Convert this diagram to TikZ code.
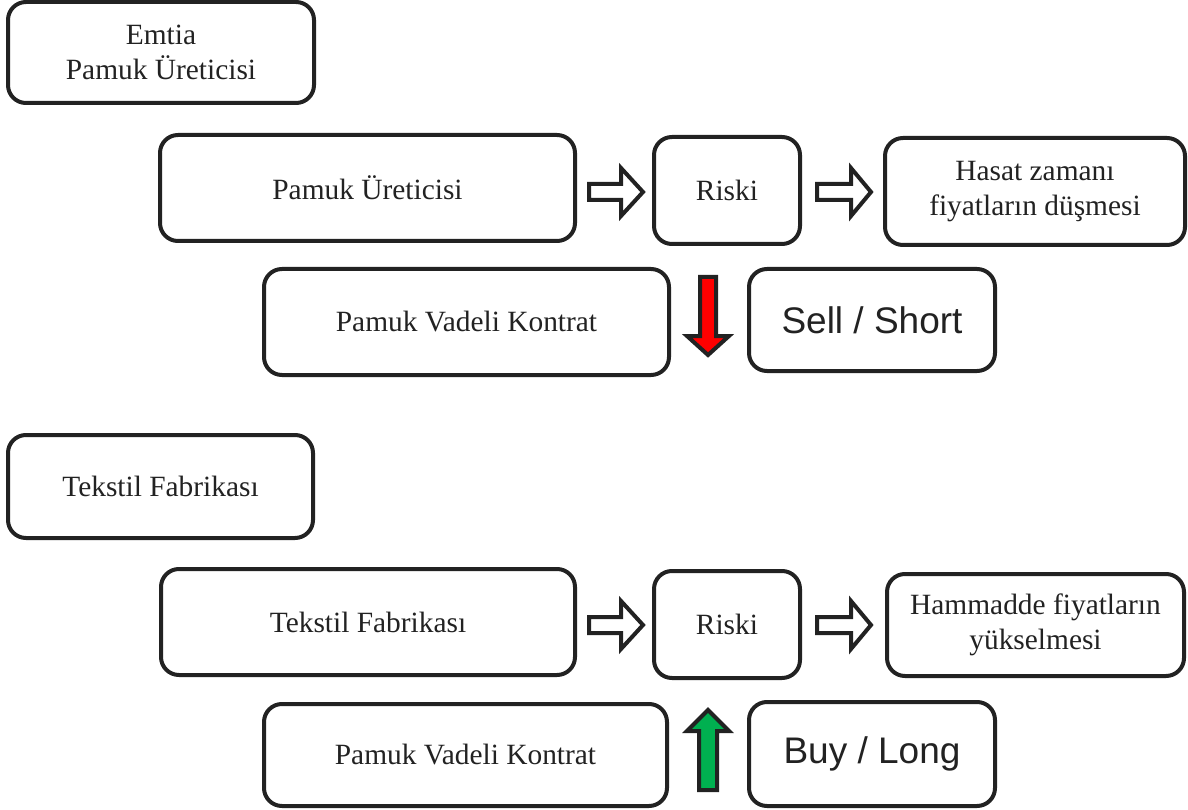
\documentclass[tikz,border=0pt]{standalone}
\usepackage{fontspec}
\setmainfont{Liberation Serif}
\newfontfamily\arialfont{Liberation Sans}
\definecolor{ink}{RGB}{34,34,34}
\definecolor{sellred}{RGB}{255,0,0}
\definecolor{buygreen}{RGB}{0,176,80}
\tikzset{
  box/.style={draw=ink, line width=4pt, rounded corners=18pt, inner sep=0pt,
    align=center, text=ink, font=\fontsize{29.4}{35}\selectfont},
  bigbox/.style={box, font=\arialfont\fontsize{37}{44}\selectfont},
  hollowarrow/.style={draw=ink, line width=4pt, fill=white, line join=miter},
  colorarrow/.style={draw=ink, line width=4pt, line join=miter}
}
% box from outer edges: L R T B
\newcommand{\mybox}[7][box]{%
  \node[#1, minimum width={#4-#3-4pt}, minimum height={#6-#5-4pt}] (#2) at ({(#3+#4)/2},{(#5+#6)/2}) {#7};}
\begin{document}
\begin{tikzpicture}[x=1pt,y=-1pt]
\useasboundingbox (0,0) rectangle (1188,810);
\fill[white] (0,0) rectangle (1188,810);

% top half
\mybox{emtia}{6}{316}{0}{105}{Emtia\\Pamuk Üreticisi}
\mybox{uretici}{158}{577}{133}{243}{Pamuk Üreticisi}
\mybox{riskA}{652}{802}{135}{246}{Riski}
\mybox{hasat}{883}{1187}{136}{247}{Hasat zamanı\\fiyatların düşmesi}
\mybox{pvkA}{262}{671}{267}{377}{Pamuk Vadeli Kontrat}
\mybox[bigbox]{sell}{747}{997}{267}{373}{Sell / Short}

% bottom half
\mybox{tekstilA}{6}{315}{433}{540}{Tekstil Fabrikası}
\mybox{tekstilB}{159}{577}{567}{677}{Tekstil Fabrikası}
\mybox{riskB}{652}{802}{569}{680}{Riski}
\mybox{hammadde}{885}{1186}{572}{678}{Hammadde fiyatların\\yükselmesi}
\mybox{pvkB}{262}{669}{702}{808}{Pamuk Vadeli Kontrat}
\mybox[bigbox]{buy}{747}{997}{700}{808}{Buy / Long}

% hollow arrows, row 1 (y = 192)
\draw[hollowarrow] (589,184) -- (621,184) -- (621,168) -- (643,192) -- (621,216) -- (621,200) -- (589,200) -- cycle;
\draw[hollowarrow] (817,184) -- (851,184) -- (851,168) -- (871,192) -- (851,216) -- (851,200) -- (817,200) -- cycle;
% hollow arrows, row 2 (y = 625)
\draw[hollowarrow] (589,617) -- (621,617) -- (621,601) -- (643,625) -- (621,649) -- (621,633) -- (589,633) -- cycle;
\draw[hollowarrow] (817,617) -- (851,617) -- (851,601) -- (871,625) -- (851,649) -- (851,633) -- (817,633) -- cycle;

% red down arrow
\draw[colorarrow, fill=sellred] (700,277) -- (716,277) -- (716,336) -- (729,336) -- (708,355) -- (687,336) -- (700,336) -- cycle;
% green up arrow
\draw[colorarrow, fill=buygreen] (699,790) -- (717,790) -- (717,731) -- (729,731) -- (708,710) -- (687,731) -- (699,731) -- cycle;
\end{tikzpicture}
\end{document}
